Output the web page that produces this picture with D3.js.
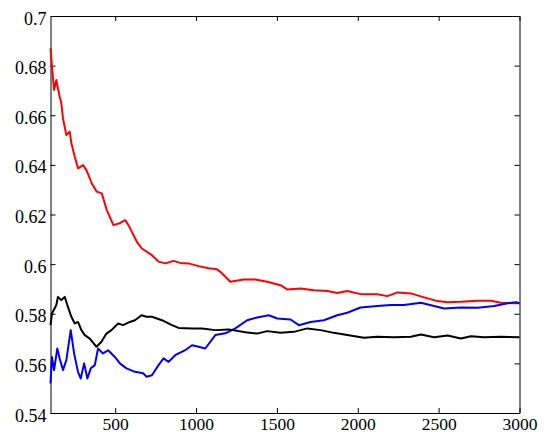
<!DOCTYPE html>
<html>
<head>
<meta charset="utf-8">
<script src="https://cdn.jsdelivr.net/npm/d3@7"></script>
</head>
<body style="margin:0">
<script>
// data (x = sample count, y = estimate)
var redX = [100, 109, 122, 136, 146, 157, 167, 177, 198, 219, 229, 250, 270, 301, 322, 343, 355, 386, 417, 448, 489, 531, 562, 582, 634, 665, 727, 768, 810, 861, 902, 954, 1016, 1078, 1130, 1150, 1212, 1295, 1367, 1440, 1522, 1564, 1646, 1728, 1812, 1873, 1935, 2017, 2121, 2183, 2245, 2328, 2410, 2493, 2555, 2638, 2741, 2823, 2885, 2989, 3000];
var redY = [0.6870, 0.6796, 0.6702, 0.6742, 0.6708, 0.6675, 0.6648, 0.6588, 0.6520, 0.6534, 0.6487, 0.6433, 0.6386, 0.6399, 0.6379, 0.6346, 0.6325, 0.6292, 0.6285, 0.6218, 0.6157, 0.6166, 0.6177, 0.6157, 0.6090, 0.6063, 0.6036, 0.6010, 0.6003, 0.6013, 0.6005, 0.6003, 0.5992, 0.5983, 0.5979, 0.5969, 0.5929, 0.5938, 0.5938, 0.5929, 0.5915, 0.5898, 0.5902, 0.5895, 0.5892, 0.5884, 0.5892, 0.5879, 0.5879, 0.5871, 0.5886, 0.5882, 0.5866, 0.5851, 0.5846, 0.5848, 0.5852, 0.5852, 0.5844, 0.5842, 0.5842];

var blackX = [100, 109, 136, 146, 167, 188, 204, 229, 250, 270, 291, 312, 343, 384, 415, 446, 477, 518, 549, 591, 622, 663, 694, 727, 789, 851, 892, 975, 1037, 1119, 1202, 1305, 1378, 1440, 1522, 1605, 1688, 1770, 1852, 1935, 2038, 2121, 2224, 2328, 2390, 2472, 2555, 2638, 2700, 2782, 2885, 3000];
var blackY = [0.5754, 0.5801, 0.5835, 0.5868, 0.5855, 0.5868, 0.5835, 0.5788, 0.5761, 0.5767, 0.5734, 0.5714, 0.5700, 0.5667, 0.5687, 0.5720, 0.5734, 0.5761, 0.5754, 0.5767, 0.5774, 0.5794, 0.5788, 0.5788, 0.5774, 0.5754, 0.5743, 0.5741, 0.5741, 0.5734, 0.5737, 0.5725, 0.5720, 0.5730, 0.5723, 0.5727, 0.5741, 0.5734, 0.5723, 0.5714, 0.5703, 0.5707, 0.5705, 0.5707, 0.5716, 0.5705, 0.5712, 0.5700, 0.5709, 0.5705, 0.5707, 0.5705];

var blueX = [100, 109, 122, 142, 157, 177, 198, 225, 246, 270, 287, 308, 328, 349, 374, 394, 425, 456, 498, 529, 570, 622, 673, 694, 727, 768, 799, 830, 871, 933, 975, 1016, 1057, 1119, 1181, 1243, 1316, 1378, 1450, 1502, 1584, 1636, 1708, 1790, 1873, 1935, 2017, 2121, 2204, 2286, 2390, 2472, 2534, 2638, 2741, 2844, 2927, 2978, 3000];
var blueY = [0.5519, 0.5626, 0.5573, 0.5660, 0.5619, 0.5573, 0.5613, 0.5734, 0.5640, 0.5566, 0.5539, 0.5600, 0.5539, 0.5580, 0.5593, 0.5660, 0.5640, 0.5653, 0.5626, 0.5600, 0.5580, 0.5566, 0.5560, 0.5546, 0.5552, 0.5593, 0.5620, 0.5606, 0.5633, 0.5653, 0.5673, 0.5667, 0.5660, 0.5714, 0.5721, 0.5741, 0.5774, 0.5785, 0.5794, 0.5781, 0.5777, 0.5754, 0.5767, 0.5774, 0.5794, 0.5804, 0.5825, 0.5831, 0.5835, 0.5835, 0.5844, 0.5831, 0.5821, 0.5825, 0.5824, 0.5831, 0.5842, 0.5846, 0.5842];

var xTicks = [500, 1000, 1500, 2000, 2500, 3000];
var yTicks = [0.54, 0.56, 0.58, 0.6, 0.62, 0.64, 0.66, 0.68, 0.7];

// layout
var W = 546, H = 432;
var margin = {top: 16, right: 26.5, bottom: 19, left: 50.5},
    width = W - margin.left - margin.right,
    height = H - margin.top - margin.bottom;

var svg = d3.select('body').append('svg')
        .attr('width', W)
        .attr('height', H)
    .append('g')
        .attr('transform', 'translate(' + margin.left + ',' + margin.top + ')');

var x = d3.scaleLinear().domain([100, 3000]).range([0, width]);
var y = d3.scaleLinear().domain([0.54, 0.7]).range([height, 0]);

function fmt(v) { return String(+v.toFixed(2)); }

// bottom axis with labels, ticks pointing inward
var gx = svg.append('g')
    .attr('transform', 'translate(0,' + height + ')')
    .call(d3.axisBottom(x).tickValues(xTicks).tickFormat(d3.format('d'))
        .tickSize(-5).tickSizeOuter(0).tickPadding(5));
gx.selectAll('text')
    .style('font-size', '17.5px')
    .style('font-family', "'Liberation Serif'");

// left axis with labels
var gy = svg.append('g')
    .call(d3.axisLeft(y).tickValues(yTicks).tickFormat(fmt)
        .tickSize(-5).tickSizeOuter(0).tickPadding(4));
gy.selectAll('text')
    .attr('dy', '0.45em')
    .style('font-size', '18px')
    .style('font-family', "'Liberation Serif'");

// top and right: ticks only
svg.append('g')
    .call(d3.axisTop(x).tickValues(xTicks).tickFormat(function() { return ''; })
        .tickSize(-5).tickSizeOuter(0));
svg.append('g')
    .attr('transform', 'translate(' + width + ',0)')
    .call(d3.axisRight(y).tickValues(yTicks).tickFormat(function() { return ''; })
        .tickSize(-5).tickSizeOuter(0));

// the three curves
var series = [
    {xs: redX, ys: redY, color: '#ff0000'},
    {xs: blueX, ys: blueY, color: '#0000ff'},
    {xs: blackX, ys: blackY, color: '#000000'}
];

var line = d3.line()
    .x(function(d) { return x(d[0]); })
    .y(function(d) { return y(d[1]); });

series.forEach(function(s) {
    svg.append('path')
        .datum(d3.zip(s.xs, s.ys))
        .attr('fill', 'none')
        .attr('stroke', s.color)
        .attr('stroke-width', 2)
        .attr('stroke-linejoin', 'round')
        .attr('d', line);
});
</script>
</body>
</html>
